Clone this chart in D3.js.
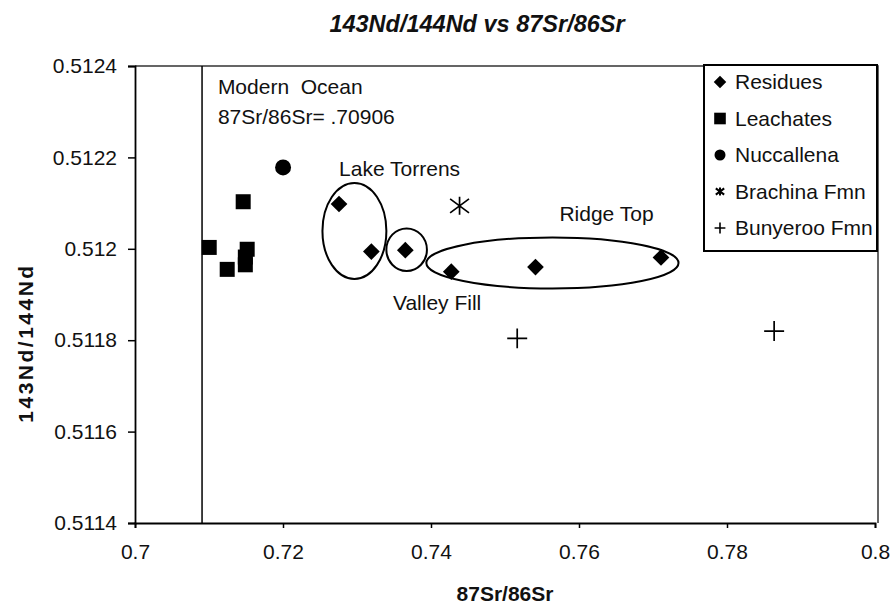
<!DOCTYPE html>
<html>
<head>
<meta charset="utf-8">
<script src="https://cdn.jsdelivr.net/npm/d3@7"></script>
<style>
  body { margin: 0; background: #fff; }
  svg { font-family: "Liberation Sans", Arial, sans-serif; }
</style>
</head>
<body>
<svg id="chart"></svg>
<script>
// Data
const residues = [
  [0.72757, 0.512098], [0.73194, 0.511994], [0.73653, 0.511997],
  [0.74274, 0.511950], [0.75412, 0.511960], [0.77108, 0.511981]
];
const leachates = [
  [0.71462, 0.512103], [0.71003, 0.512003], [0.71246, 0.511955],
  [0.71516, 0.511999], [0.71491, 0.511982], [0.71491, 0.511965]
];
const nuccallena = [[0.72001, 0.512178]];
const brachina = [[0.74386, 0.512094]];
const bunyeroo = [[0.75165, 0.511804], [0.78637, 0.511820]];

const modernOcean = 0.70906;

// group outlines: centre x, centre y, half width, half height (data units)
const groups = [
  {name: "Lake Torrens", cx: 0.72965, cy: 0.512039, rx: 0.00432, ry: 0.000105, lx: 0.72758, ly: 0.512159},
  {name: "Valley Fill", cx: 0.73671, cy: 0.511998, rx: 0.00274, ry: 0.0000466, lx: 0.73486, ly: 0.511866},
  {name: "Ridge Top", cx: 0.75641, cy: 0.511969, rx: 0.01704, ry: 0.0000558, lx: 0.75735, ly: 0.512061}
];

const xTicks = [0.7, 0.72, 0.74, 0.76, 0.78, 0.8];
const xTickLabels = ["0.7", "0.72", "0.74", "0.76", "0.78", "0.8"];
const yTicks = [0.5114, 0.5116, 0.5118, 0.512, 0.5122, 0.5124];
const yTickLabels = ["0.5114", "0.5116", "0.5118", "0.512", "0.5122", "0.5124"];

const W = 894, H = 608;
const margin = {top: 66, right: 18, bottom: 85, left: 135},
    width = W - margin.left - margin.right - 1,
    height = H - margin.top - margin.bottom;

const svg = d3.select("#chart")
  .attr("width", W)
  .attr("height", H);

const g = svg.append("g")
  .attr("transform", `translate(${margin.left},${margin.top})`);

const x = d3.scaleLinear().domain([0.7, 0.8]).range([0, width]);
const y = d3.scaleLinear().domain([0.5114, 0.5124]).range([height, 0]);

// plot frame (top and right)
g.append("path")
  .attr("d", `M0,0H${width + 3}V${height}`)
  .attr("fill", "none")
  .attr("stroke", "#333")
  .attr("stroke-width", 1.5);

// X axis
const xAxis = g.append("g")
  .attr("transform", `translate(0,${height})`)
  .call(d3.axisBottom(x).tickValues(xTicks)
    .tickFormat((d, i) => xTickLabels[i]).tickSizeOuter(0).tickSize(5).tickPadding(16));

// Y axis
const yAxis = g.append("g")
  .call(d3.axisLeft(y).tickValues(yTicks)
    .tickFormat((d, i) => yTickLabels[i]).tickSizeOuter(0).tickSize(7).tickPadding(11));

[xAxis, yAxis].forEach(a => {
  a.select(".domain").attr("stroke", "#000").attr("stroke-width", 1.8);
  a.selectAll(".tick line").attr("stroke", "#000").attr("stroke-width", 1.5);
  a.selectAll(".tick text").attr("fill", "#111").style("font-size", "21px").attr("font-family", null);
});

// Modern ocean line
g.append("line")
  .attr("x1", x(modernOcean)).attr("x2", x(modernOcean))
  .attr("y1", 0).attr("y2", height)
  .attr("stroke", "#000").attr("stroke-width", 1.5);

g.append("text")
  .attr("x", x(0.7112)).attr("y", 28)
  .style("font-size", "21px").style("white-space", "pre")
  .attr("fill", "#111")
  .text("Modern  Ocean");
g.append("text")
  .attr("x", x(0.7112)).attr("y", 58)
  .style("font-size", "21px")
  .attr("fill", "#111")
  .text("87Sr/86Sr= .70906");

// group ellipses + labels
g.selectAll(".grp")
  .data(groups)
  .join("ellipse")
  .attr("class", "grp")
  .attr("cx", d => x(d.cx))
  .attr("cy", d => y(d.cy))
  .attr("rx", d => x(d.cx + d.rx) - x(d.cx))
  .attr("ry", d => y(d.cy) - y(d.cy + d.ry))
  .attr("fill", "none")
  .attr("stroke", "#000")
  .attr("stroke-width", 2);

g.selectAll(".grpLabel")
  .data(groups)
  .join("text")
  .attr("class", "grpLabel")
  .attr("x", d => x(d.lx))
  .attr("y", d => y(d.ly))
  .style("font-size", "21px")
  .attr("fill", "#111")
  .text(d => d.name);

// custom asterisk: X with a vertical bar
const starSym = {
  draw(ctx, size) {
    const s = Math.sqrt(size) / 2;
    ctx.moveTo(0, -s); ctx.lineTo(0, s);
    ctx.moveTo(-s * 1.05, -s * 0.78); ctx.lineTo(s * 1.05, s * 0.78);
    ctx.moveTo(-s * 1.05, s * 0.78); ctx.lineTo(s * 1.05, -s * 0.78);
  }
};

const series = [
  {name: "Residues", data: residues, type: d3.symbolDiamond2, size: 178, legSize: 100, filled: true},
  {name: "Leachates", data: leachates, type: d3.symbolSquare, size: 225, legSize: 135, filled: true},
  {name: "Nuccallena", data: nuccallena, type: d3.symbolCircle, size: 200, legSize: 95, filled: true},
  {name: "Brachina Fmn", data: brachina, type: starSym, size: 324, legSize: 64, filled: false},
  {name: "Bunyeroo Fmn", data: bunyeroo, type: d3.symbolPlus, size: 132, legSize: 40, filled: false}
];

series.forEach(s => {
  g.selectAll(null)
    .data(s.data)
    .join("path")
    .attr("transform", d => `translate(${x(d[0])},${y(d[1])})`)
    .attr("d", d3.symbol(s.type, s.size))
    .attr("fill", s.filled ? "#000" : "none")
    .attr("stroke", s.filled ? "none" : "#000")
    .attr("stroke-width", 1.7);
});

// Legend
const legend = svg.append("g").attr("transform", "translate(704,65)");
legend.append("rect")
  .attr("width", 173).attr("height", 186)
  .attr("fill", "#fff")
  .attr("stroke", "#000")
  .attr("stroke-width", 2);

const row = legend.selectAll(".row")
  .data(series)
  .join("g")
  .attr("transform", (d, i) => `translate(16,${17 + i * 36.5})`);
row.append("path")
  .attr("d", d => d3.symbol(d.type, d.legSize)())
  .attr("fill", d => d.filled ? "#000" : "none")
  .attr("stroke", d => d.filled ? "none" : "#000")
  .attr("stroke-width", d => d.name === "Brachina Fmn" ? 2 : 1.6);
row.append("text")
  .attr("x", 15).attr("y", 7)
  .style("font-size", "21px")
  .attr("fill", "#111")
  .text(d => d.name);

// Title
svg.append("text")
  .attr("x", 477).attr("y", 32)
  .attr("text-anchor", "middle")
  .style("font-size", "23.5px")
  .style("font-weight", "bold")
  .style("font-style", "italic")
  .attr("fill", "#111")
  .text("143Nd/144Nd vs 87Sr/86Sr");

// X axis label
svg.append("text")
  .attr("x", margin.left + width / 2)
  .attr("y", 601)
  .attr("text-anchor", "middle")
  .style("font-size", "21px")
  .style("font-weight", "bold")
  .attr("fill", "#111")
  .text("87Sr/86Sr");

// Y axis label
svg.append("text")
  .attr("transform", "translate(33,343) rotate(-90)")
  .attr("text-anchor", "middle")
  .style("font-size", "21px")
  .style("font-weight", "bold")
  .style("letter-spacing", "2.5px")
  .attr("fill", "#111")
  .text("143Nd/144Nd");
</script>
</body>
</html>
